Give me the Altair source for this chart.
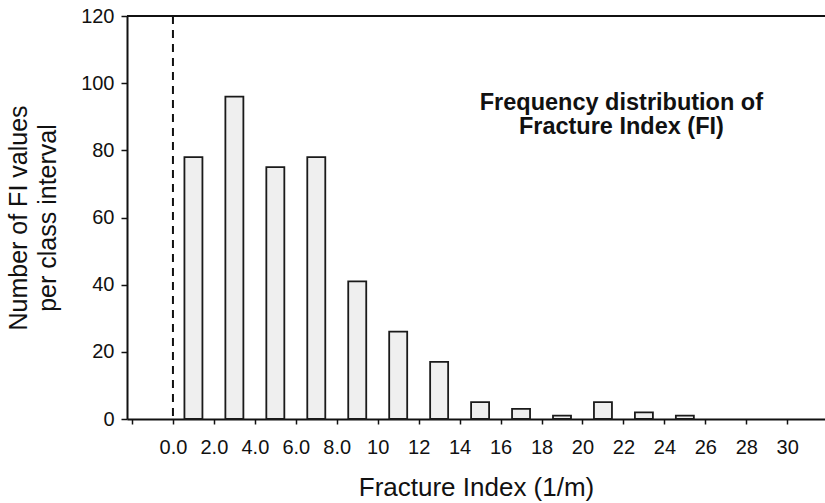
import altair as alt
import pandas as pd

# ---- data ----
bin_centers = [1, 3, 5, 7, 9, 11, 13, 15, 17, 19, 21, 23, 25]
counts = [78, 96, 75, 78, 41, 26, 17, 5, 3, 1, 5, 2, 1]
x_tick_values = [-2, 0, 2, 4, 6, 8, 10, 12, 14, 16, 18, 20, 22, 24, 26, 28, 30]
y_tick_values = [0, 20, 40, 60, 80, 100, 120]
x_title = "Fracture Index (1/m)"
y_title_lines = ["Number of FI values", "per class interval"]
note_lines = ["Frequency distribution of", "Fracture Index (FI)"]

FONT = "Liberation Sans"

bars_df = pd.DataFrame({"fi": bin_centers, "count": counts})
zero_df = pd.DataFrame({"fi": [0]})
top_df = pd.DataFrame({"count": [max(y_tick_values)]})
note_df = pd.DataFrame({"fi": [21.9], "count": [91.9]})

x_scale = alt.Scale(domain=[-2, 31.6], nice=False, zero=False)
y_scale = alt.Scale(domain=[0, 120], nice=False, zero=True)

x_axis = alt.Axis(
    values=x_tick_values,
    labelExpr="datum.value < 0 ? '' : (datum.value < 10 ? format(datum.value, '.1f') : format(datum.value, 'd'))",
    title=x_title,
    grid=False,
    tickSize=5,
    labelPadding=13,
    titlePadding=17,
    labelFlush=False,
    labelOverlap=False,
    labelFont=FONT,
    labelFontSize=20,
    titleFont=FONT,
    titleFontSize=26,
)
y_axis = alt.Axis(
    values=y_tick_values,
    title=y_title_lines,
    grid=False,
    tickSize=6,
    labelPadding=7,
    titlePadding=20,
    labelFont=FONT,
    labelFontSize=20,
    titleFont=FONT,
    titleFontSize=25,
    titleLineHeight=29,
)

bars = alt.Chart(bars_df).mark_bar(
    size=18, fill="#efefef", stroke="#1a1a1a", strokeWidth=1.8
).encode(
    x=alt.X("fi:Q", scale=x_scale, axis=x_axis),
    y=alt.Y("count:Q", scale=y_scale, axis=y_axis),
)

zero_line = alt.Chart(zero_df).mark_rule(
    color="#111111", strokeWidth=2, strokeDash=[8, 6]
).encode(x=alt.X("fi:Q", scale=x_scale))

top_line = alt.Chart(top_df).mark_rule(
    color="#111111", strokeWidth=2
).encode(y=alt.Y("count:Q", scale=y_scale))

note = alt.Chart(note_df).mark_text(
    text=note_lines,
    font=FONT,
    fontSize=23.5,
    fontWeight="bold",
    align="center",
    baseline="alphabetic",
    lineHeight=24,
    color="#111111",
).encode(
    x=alt.X("fi:Q", scale=x_scale),
    y=alt.Y("count:Q", scale=y_scale),
)

chart = alt.layer(top_line, zero_line, bars, note).properties(
    width=698,
    height=403,
    autosize=alt.AutoSizeParams(type="none"),
    padding={"left": 127, "top": 16, "right": 0, "bottom": 84},
    background="white",
).configure_view(
    stroke=None
).configure_axis(
    labelFont=FONT,
    titleFont=FONT,
    titleFontWeight="normal",
    labelColor="#111111",
    titleColor="#111111",
    domainColor="#111111",
    tickColor="#111111",
    domainWidth=2,
    tickWidth=1.5,
)

chart.save("out.html", embed_options={"renderer": "svg", "actions": False})
